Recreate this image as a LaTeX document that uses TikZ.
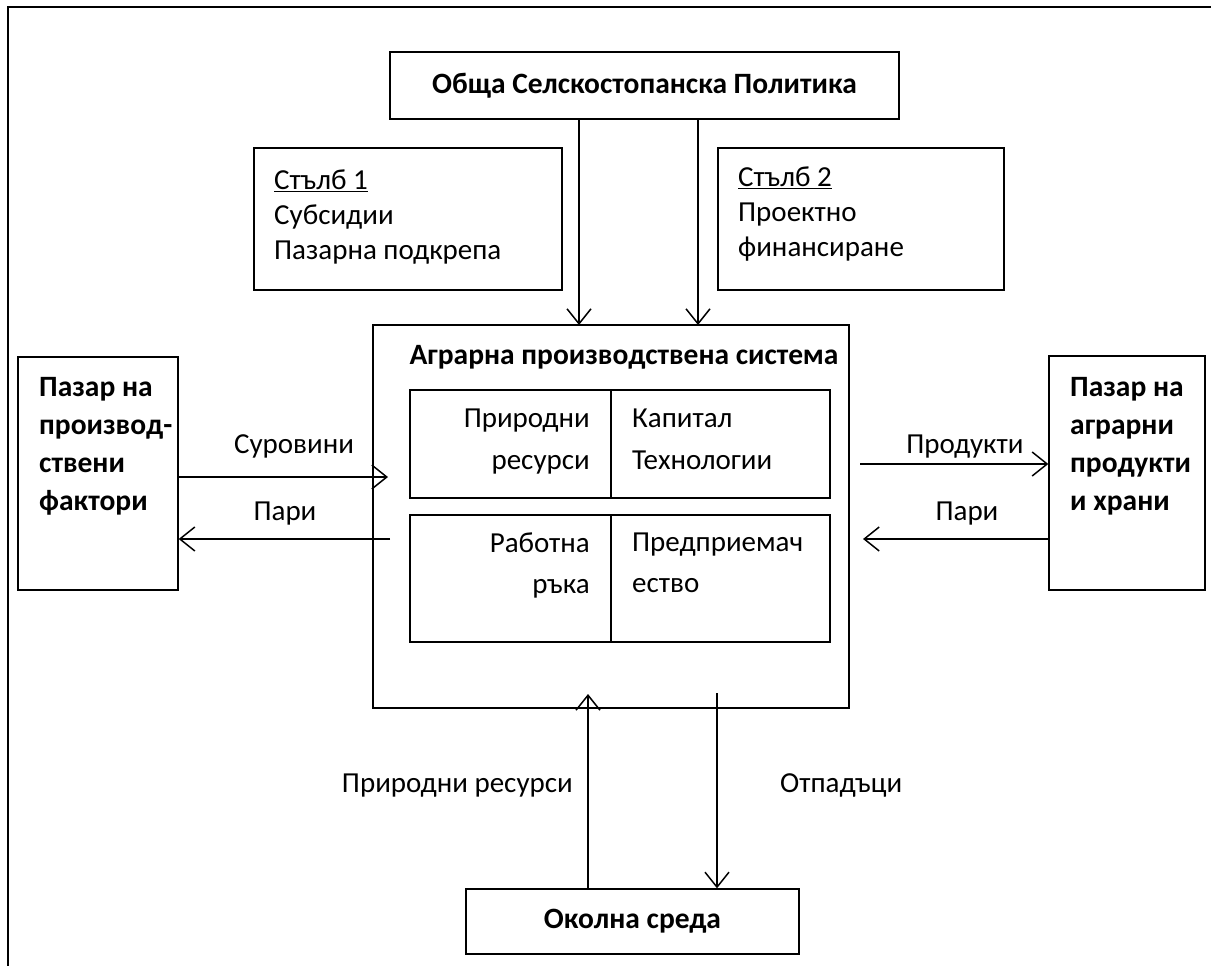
\documentclass[tikz,border=0pt]{standalone}
\usepackage{fontspec}
\setmainfont{Carlito}
\usetikzlibrary{arrows.meta,positioning,calc}
\tikzset{box/.style={
            draw,
            line width=1.3pt,
            inner sep=0pt,
            rectangle
        },
        titlebox/.style={
            box,
            font=\fontsize{29.5}{34}\selectfont\bfseries
        },
        txt/.style={
            inner sep=0pt,
            align=left,
            font=\fontsize{29}{38}\selectfont
        },
        boldtxt/.style={
            txt,
            font=\fontsize{29.5}{38}\selectfont\bfseries
        },
        flow/.style={
            line width=1.5pt,
            -{Straight Barb[length=15pt,width=24pt]}
        },
        frame/.style={
            line width=1.3pt
        }
    }

\begin{document}
\begin{tikzpicture}[x=1pt,y=-1pt]
        \useasboundingbox (0,0) rectangle (1211,966);
        \draw[frame] (8,966) -- (8,7) -- (1211,7);

        \node[titlebox,minimum width=509pt,minimum height=67pt] at (644.5,85.5) (policy) {Обща Селскостопанска Политика};
        \node[box,minimum width=308pt,minimum height=142pt] at (408,219) (pillarA) {};
        \node[txt,font=\fontsize{29}{35}\selectfont,anchor=north west] at (274,170) (pillarAtext) {\underline{Стълб 1}\\Субсидии\\Пазарна подкрепа};
        \node[box,minimum width=286pt,minimum height=142pt] at (861,219) (pillarB) {};
        \node[txt,font=\fontsize{29}{35}\selectfont,anchor=north west] at (738,167) (pillarBtext) {\underline{Стълб 2}\\Проектно\\финансиране};

        \node[box,minimum width=476pt,minimum height=383pt] at (611,516.5) (system) {};
        \node[boldtxt,anchor=base] at (624,364) (systemtitle) {Аграрна производствена система};
        \node[box,minimum width=201pt,minimum height=108pt] at (510.5,444) (natcell) {};
        \node[box,minimum width=219pt,minimum height=108pt] at (720.5,444) (capcell) {};
        \node[box,minimum width=201pt,minimum height=127pt] at (510.5,578.5) (labcell) {};
        \node[box,minimum width=219pt,minimum height=127pt] at (720.5,578.5) (entcell) {};
        \node[txt,font=\fontsize{29}{42}\selectfont,align=right,anchor=north east] at (590,409) (nattext) {Природни\\ресурси};
        \node[txt,font=\fontsize{29}{42}\selectfont,anchor=north west] at (632,409) (captext) {Капитал\\Технологии};
        \node[txt,font=\fontsize{29}{41}\selectfont,align=right,anchor=north east] at (590,533) (labtext) {Работна\\ръка};
        \node[txt,font=\fontsize{29}{41}\selectfont,anchor=north west] at (632,533) (enttext) {Предприемач\\ество};

        \node[box,minimum width=160pt,minimum height=233pt] at (98,473.5) (inmarket) {};
        \node[boldtxt,anchor=north west] at (39,377) (inmarkettext) {Пазар на\\производ-\\ствени\\фактори};
        \node[box,minimum width=156pt,minimum height=234pt] at (1127,473) (outmarket) {};
        \node[boldtxt,anchor=north west] at (1070,377) (outmarkettext) {Пазар на\\аграрни\\продукти\\и храни};

        \node[titlebox,minimum width=333pt,minimum height=65pt] at (632.5,921.5) (env) {Околна среда};

        \coordinate (subsA) at (579,325);
        \coordinate (subsB) at (698,325);
        \coordinate (rawin) at (388,477);
        \coordinate (payout) at (390,539);
        \coordinate (prodout) at (860,464);
        \coordinate (payin) at (863,539);
        \coordinate (natin) at (588,694);
        \coordinate (wasteout) at (717,693);

        \draw[flow] (policy.south -| subsA) -- (subsA);
        \draw[flow] (policy.south -| subsB) -- (subsB);
        \draw[flow] (inmarket.east |- rawin) -- (rawin);
        \draw[flow] (payout) -- (inmarket.east |- payout);
        \draw[flow] (prodout) -- (outmarket.west |- prodout);
        \draw[flow] (outmarket.west |- payin) -- (payin);
        \draw[flow] (env.north -| natin) -- (natin);
        \draw[flow] (wasteout) -- (env.north -| wasteout);

        \node[txt,anchor=base] at (294,453) (rawlabel) {Суровини};
        \node[txt,anchor=base] at (285,520) (paylabelA) {Пари};
        \node[txt,anchor=base] at (965,453) (prodlabel) {Продукти};
        \node[txt,anchor=base] at (967,520) (paylabelB) {Пари};
        \node[txt,anchor=base east] at (573,792) (natlabel) {Природни ресурси};
        \node[txt,anchor=base west] at (780,792) (wastelabel) {Отпадъци};
    \end{tikzpicture}
\end{document}
